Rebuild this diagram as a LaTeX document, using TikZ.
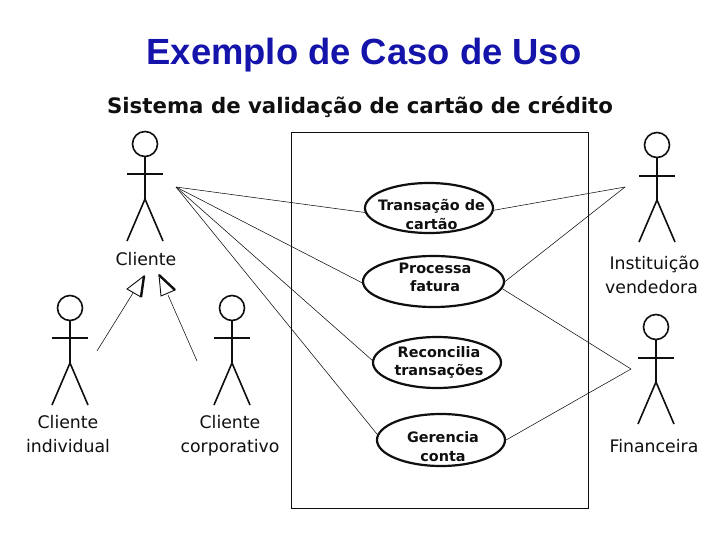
\documentclass[tikz,border=0pt]{standalone}
\usepackage{fontspec}
\setmainfont{DejaVu Sans}
\newfontfamily\titlefont{Liberation Sans}
\usetikzlibrary{shapes.geometric}
\definecolor{titleblue}{RGB}{20,20,170}
\definecolor{ink}{RGB}{15,15,15}
\newcommand{\actor}[7]{% name, head x, head y, arm y, hip y, foot y, half width
  \node[actorhead] (#1) at (#2,#3) {};
  \coordinate (#1hip) at (#2,#5);
  \coordinate (#1armL) at (#2-#7,#4);
  \coordinate (#1armR) at (#2+#7,#4);
  \coordinate (#1footL) at (#2-#7,#6);
  \coordinate (#1footR) at (#2+#7,#6);
  \draw[actorline] (#1.south) -- (#1hip);
  \draw[actorline] (#1armL) -- (#1armR);
  \draw[actorline] (#1footL) -- (#1hip) -- (#1footR);
}
\tikzset{
  actorhead/.style={circle,draw=ink,line width=1.6pt,minimum size=25pt,inner sep=0pt,fill=white},
  actorline/.style={draw=ink,line width=1.6pt},
  usecase/.style={ellipse,draw=ink,line width=2.2pt,inner sep=0pt},
  uselabel/.style={font=\bfseries\fontsize{14.4}{18.5}\selectfont,align=center,text=ink,inner sep=0pt},
  actorlabel/.style={font=\fontsize{17.3}{24}\selectfont,align=center,text=ink,inner sep=0pt},
  conn/.style={draw=ink,line width=0.55pt},
  gen/.style={draw=ink,line width=0.9pt,fill=white,line join=miter},
  genedge/.style={draw=ink,line width=2.4pt},
}
\begin{document}
\begin{tikzpicture}[x=1pt,y=-1pt]
\useasboundingbox (0,0) rectangle (728,546);
\node[font=\titlefont\bfseries\fontsize{36.4}{42}\selectfont,text=titleblue,inner sep=0pt] (title) at (364,55) {Exemplo de Caso de Uso};
\node[font=\bfseries\fontsize{21.3}{26}\selectfont,text=ink,inner sep=0pt] (subtitle) at (360,107) {Sistema de validação de cartão de crédito};
\node[draw=ink,line width=1pt,minimum width=297pt,minimum height=376pt,inner sep=0pt] (system) at (439.5,320) {};
\actor{cli}{145}{144}{174}{199}{241}{18}
\actor{ind}{70}{308}{338}{363}{405}{18}
\actor{cor}{232}{308}{338}{363}{405}{18}
\actor{ins}{657}{145}{176}{200}{242}{18}
\actor{fin}{656}{327}{358}{382}{424}{18}
\node[usecase,minimum width=128pt,minimum height=50pt] (e1) at (429,208) {};
\node[usecase,minimum width=141pt,minimum height=51pt] (e2) at (433.5,281.5) {};
\node[usecase,minimum width=128pt,minimum height=51pt] (e3) at (437,362.5) {};
\node[usecase,minimum width=128pt,minimum height=52pt] (e4) at (441,440) {};
\node[uselabel] (t1) at (431.5,214.5) {Transação de\\cartão};
\node[uselabel] (t2) at (435,277.5) {Processa\\fatura};
\node[uselabel] (t3) at (439,362.5) {Reconcilia\\transações};
\node[uselabel] (t4) at (443,446.5) {Gerencia\\conta};
\node[actorlabel] (l1) at (146,259) {Cliente};
\node[actorlabel] (l2) at (68,434.5) {Cliente\\individual};
\node[actorlabel] (l3) at (230,436) {Cliente\\corporativo};
\node[actorlabel] (l4) at (653,275) {\hspace*{3pt}Instituição\\vendedora\hspace*{3pt}};
\node[actorlabel] (l5) at (654,446) {Financeira};
\coordinate (cpoint) at (176,187);
\coordinate (ipoint) at (625,187);
\coordinate (fpoint) at (631,369);
\draw[conn] (cpoint) -- (e1.184);
\draw[conn] (cpoint) -- (e2.181);
\draw[conn] (cpoint) -- (e3.178);
\draw[conn] (cpoint) -- (e4.175);
\draw[conn] (e1.358) -- (ipoint);
\draw[conn] (e2.0) -- (ipoint);
\draw[conn] (e2.354) -- (fpoint);
\draw[conn] (e4.0) -- (fpoint);
\coordinate (g1tip) at (144,276);
\coordinate (g1a) at (127,289);
\coordinate (g1b) at (141,297);
\coordinate (g2tip) at (159,275);
\coordinate (g2a) at (175,290);
\coordinate (g2b) at (161,296);
\coordinate (g1base) at (133,293);
\coordinate (g2base) at (168,295);
\coordinate (g1end) at (97,351);
\coordinate (g2end) at (197,361);
\draw[conn] (g1end) -- (g1base);
\draw[conn] (g2end) -- (g2base);
\draw[gen] (g1tip) -- (g1a) -- (g1b) -- cycle;
\draw[gen] (g2tip) -- (g2a) -- (g2b) -- cycle;
\draw[genedge] (g1tip) -- (g1b);
\draw[genedge] (g2tip) -- (g2a);
\end{tikzpicture}
\end{document}
